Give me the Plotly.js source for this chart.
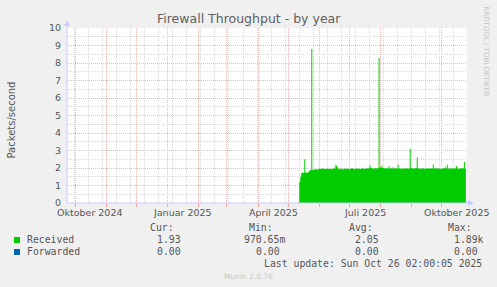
<!DOCTYPE html>
<html>
<head>
<meta charset="utf-8">
<script src="https://cdn.plot.ly/plotly-3.0.1.min.js"></script>
<style>html,body{margin:0;padding:0;background:#F0F0F0;}#chart{width:497px;height:287px;}</style>
</head>
<body>
<div id="chart"></div>
<script>
// ---- data ----
const seriesStart = '2025-05-12';
const received = [
  1.2, 1.5, 1.72, 1.74, 1.72, 2.5, 1.75, 1.73, 1.75, 1.78, 1.85, 1.88, 8.8,
  1.9, 1.88, 1.92, 1.95, 1.93, 1.9, 1.96, 1.97, 1.94, 1.95, 1.98, 1.96, 1.93, 1.95, 1.97, 1.96, 1.94, 1.97, 1.95, 1.93, 1.96, 1.98, 1.97,
  2.18, 2.1, 2.02,
  1.95, 1.93, 1.97, 1.96, 1.92, 1.95, 1.98, 1.96, 1.94, 1.97, 1.95, 1.93, 1.96, 1.99, 1.97, 1.95, 1.94, 1.96, 1.98, 1.95, 1.97, 1.96, 1.94, 1.97, 1.99, 1.96, 1.95, 1.98, 1.97, 1.96, 2.0,
  2.15, 2.0,
  1.97, 1.98, 1.96, 1.99, 1.97, 1.98, 2.0,
  8.3,
  2.05, 2.02, 2.15, 2.0,
  1.98, 1.97, 2.0, 1.96, 1.98, 2.1, 1.97, 1.99, 1.96, 2.05, 1.98, 1.97, 1.99, 1.96,
  2.18,
  1.98, 1.96, 1.99, 1.97, 1.95, 1.98, 1.96, 1.97, 1.99, 1.96, 1.98,
  3.1,
  2.0, 1.97, 1.99, 1.96, 1.98, 2.0,
  2.6,
  1.98, 1.95, 1.97, 1.99, 1.96, 1.98, 1.97, 1.95, 1.98, 1.96, 1.99, 1.97, 1.96, 1.98, 1.97,
  2.2,
  1.98, 1.96, 1.97, 1.99, 1.96, 1.98, 1.95, 1.97, 1.99, 1.96, 1.98, 2.05, 1.97,
  2.2,
  1.97, 1.98, 1.96, 1.99, 1.97, 1.96, 1.98, 1.97, 2.12,
  1.98, 1.96, 1.97, 1.99, 1.96, 1.98, 1.97,
  2.35,
  1.95, 1.93
];
const xRange = ['2024-09-22 17:00', '2025-10-26 02:00'];
const monthStarts = ['2024-10-01','2024-11-01','2024-12-01','2025-01-01','2025-02-01','2025-03-01','2025-04-01','2025-05-01','2025-06-01','2025-07-01','2025-08-01','2025-09-01','2025-10-01'];
const monthLabels = ['Oktober 2024','Januar 2025','April 2025','Juli 2025','Oktober 2025'];
const monthLabelDates = ['2024-10-16','2025-01-16','2025-04-16','2025-07-16','2025-10-16'];
const seriesNames = ['Received','Forwarded'];
const seriesColors = ['#00CC00','#0066B3'];
const statHeaders = ['Cur:','Min:','Avg:','Max:'];
const statsReceived = ['1.93','970.65m','2.05','1.89k'];
const statsForwarded = ['0.00','0.00','0.00','0.00'];
const titleText = 'Firewall Throughput - by year';
const yTitle = 'Packets/second';
const lastUpdate = 'Last update: Sun Oct 26 02:00:05 2025';

// ---- build ----
const dates = received.map((v,i)=>{
  const d = new Date(seriesStart + 'T00:00:00Z');
  d.setUTCDate(d.getUTCDate()+i);
  return d.toISOString().slice(0,10);
});

const L=67, R=467, T=28, B=203;
const px = x => (x-L)/(R-L);
const py = y => (B-y)/(B-T);

const txt = '#555555';
const mono = 'DejaVu Sans Mono';
const sans = 'DejaVu Sans';
const majorGrid = '#ebb8b8';
const minorGrid = '#d8d8d8';

const ann = [];
function a(text, x, y, anchor, font, extra){
  ann.push(Object.assign({text, x:px(x), y:py(y), xref:'paper', yref:'paper', xanchor:anchor, yanchor:'middle', showarrow:false, font, borderpad:0}, extra||{}));
}
a(titleText, 248.5, 18.5, 'center', {family:sans, size:12.5, color:'#606060'});
a(yTitle, 10.5, 120, 'center', {family:sans, size:10, color:txt}, {textangle:-90});
a('RRDTOOL / TOBI OETIKER', 485.5, 52, 'center', {family:sans, size:7, color:'#c4c4c4'}, {textangle:90});
monthLabels.forEach((t,i)=>{
  ann.push({text:t, x:monthLabelDates[i], xref:'x', y:py(212.7), yref:'paper', xanchor:'center', yanchor:'middle', showarrow:false, font:{family:sans, size:9.5, color:txt}, borderpad:0});
});
const headerLeft = [149, 248, 348, 447];
statHeaders.forEach((h,i)=>a(h, headerLeft[i], 227.3, 'left', {family:mono, size:9.8, color:txt}));
const rLeft = [156, 243, 354, 453];
const fLeft = [156, 255, 354, 453];
statsReceived.forEach((v,i)=>a(v, rLeft[i], 239.5, 'left', {family:mono, size:9.8, color:txt}));
statsForwarded.forEach((v,i)=>a(v, fLeft[i], 251.7, 'left', {family:mono, size:9.8, color:txt}));
a(seriesNames[0], 26, 239.5, 'left', {family:mono, size:9.8, color:txt});
a(seriesNames[1], 26, 251.7, 'left', {family:mono, size:9.8, color:txt});
a(lastUpdate, 483, 263.3, 'right', {family:mono, size:9.8, color:txt});
a('Munin 2.0.76', 248, 276.3, 'center', {family:sans, size:7.5, color:'#c4c4c4'});

const axisCol = '#c8ccff';
const shapes = [
  {type:'line', xref:'paper', yref:'paper', x0:px(67), x1:px(67), y0:py(203), y1:py(24), line:{color:axisCol, width:1}},
  {type:'line', xref:'paper', yref:'paper', x0:px(67), x1:px(470), y0:py(203), y1:py(203), line:{color:axisCol, width:1}},
  {type:'path', xref:'paper', yref:'paper', path:`M ${px(67)},${py(20)} L ${px(64)},${py(26)} L ${px(70)},${py(26)} Z`, fillcolor:axisCol, line:{width:0}},
  {type:'path', xref:'paper', yref:'paper', path:`M ${px(474)},${py(203)} L ${px(468)},${py(200)} L ${px(468)},${py(206)} Z`, fillcolor:axisCol, line:{width:0}},
  {type:'rect', xref:'paper', yref:'paper', x0:px(14), x1:px(20), y0:py(243), y1:py(237), fillcolor:seriesColors[0], line:{width:0}},
  {type:'rect', xref:'paper', yref:'paper', x0:px(14), x1:px(20), y0:py(255), y1:py(249), fillcolor:seriesColors[1], line:{width:0}}
];

const trace = {
  x: dates, y: received, type:'scatter', mode:'lines', line:{width:0, shape:'hv', color:seriesColors[0]},
  fill:'tozeroy', fillcolor:seriesColors[0], hoverinfo:'skip', showlegend:false
};

const layout = {
  width:497, height:287,
  margin:{l:L, r:497-R, t:T, b:287-B, pad:0},
  paper_bgcolor:'#F0F0F0', plot_bgcolor:'#FFFFFF',
  showlegend:false,
  xaxis:{
    type:'date', range:xRange,
    tickmode:'linear', tick0:'2024-09-30', dtick:14*86400000, showticklabels:false, ticks:'',
    showgrid:true, gridcolor:minorGrid, gridwidth:1, griddash:'1px,1px',
    minor:{tickmode:'array', tickvals:monthStarts, showgrid:true, gridcolor:majorGrid, gridwidth:1, griddash:'1px,1px',
           ticks:'outside', ticklen:3, tickcolor:'#e8a0a0', tickwidth:1},
    zeroline:false, showline:false, fixedrange:true
  },
  yaxis:{
    range:[0,10], tickmode:'linear', tick0:0, dtick:1,
    tickfont:{family:sans, size:9.5, color:txt}, ticks:'', ticklabelstandoff:5,
    showgrid:true, gridcolor:majorGrid, gridwidth:1, griddash:'1px,1px',
    minor:{tickmode:'linear', tick0:0, dtick:0.5, showgrid:true, gridcolor:minorGrid, griddash:'1px,1px', ticks:''},
    zeroline:false, showline:false, fixedrange:true
  },
  annotations:ann,
  shapes:shapes
};
Plotly.newPlot('chart', [trace], layout, {staticPlot:true, displayModeBar:false});
</script>
</body>
</html>
